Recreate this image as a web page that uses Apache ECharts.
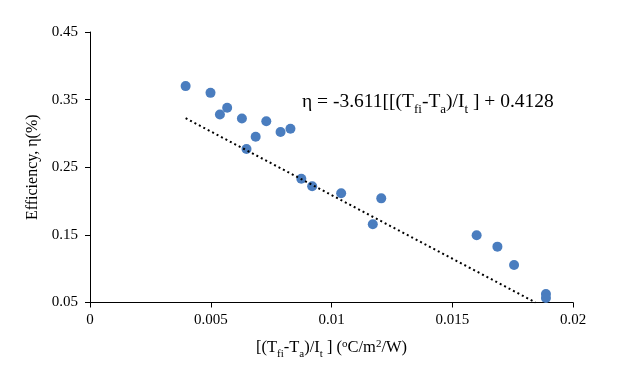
<!DOCTYPE html>
<html>
<head>
<meta charset="utf-8">
<script src="https://cdn.jsdelivr.net/npm/echarts@6/dist/echarts.min.js"></script>
<style>html,body{margin:0;padding:0;background:#fff}#c{width:623px;height:376px}</style>
</head>
<body>
<div id="c"></div>
<script>
var xValues = [0.00396, 0.00499, 0.00538, 0.00568, 0.00629, 0.00648, 0.00686, 0.00730, 0.00789, 0.00830, 0.00875, 0.00920, 0.01040, 0.01206, 0.01171, 0.01601, 0.01687, 0.01756, 0.01888, 0.01888];
var yValues = [0.370, 0.360, 0.328, 0.338, 0.322, 0.277, 0.295, 0.318, 0.302, 0.307, 0.233, 0.222, 0.2115, 0.204, 0.1657, 0.1494, 0.1326, 0.1055, 0.0626, 0.0567];
var trendX = [0.00396, 0.01845];
var trendY = [0.3225, 0.05];
var xTicks = [0, 0.005, 0.01, 0.015, 0.02];
var yTicks = [0.05, 0.15, 0.25, 0.35, 0.45];

var pts = xValues.map(function (x, i) { return [x, yValues[i]]; });
var trend = trendX.map(function (x, i) { return [x, trendY[i]]; });
var font = '"Liberation Serif", "Times New Roman", serif';

var chart = echarts.init(document.getElementById('c'), null, { renderer: 'canvas' });
chart.setOption({
  animation: false,
  backgroundColor: '#fff',
  textStyle: { fontFamily: font },
  grid: { left: 90, right: 50, top: 32, bottom: 73.5 },
  xAxis: {
    type: 'value', min: 0, max: 0.02, interval: 0.005,
    axisLine: { show: true, lineStyle: { color: '#000', width: 1 } },
    axisTick: { show: true, length: 5, lineStyle: { color: '#000' } },
    splitLine: { show: false },
    axisLabel: { color: '#000', fontSize: 15, fontFamily: font, margin: 10,
      formatter: function (v) { return String(+v.toFixed(3)); } },
    name: '{n|[(T}{s|fi}{n|-T}{s|a}{n|)/I}{s|t}{n| ] (}{p|o}{n|C/m}{p|2}{n|/W)}',
    nameLocation: 'middle', nameGap: 34,
    nameTextStyle: {
      color: '#000', fontFamily: font,
      rich: {
        n: { fontSize: 16.5, fontFamily: font, color: '#000', lineHeight: 22, verticalAlign: 'middle' },
        s: { fontSize: 11, fontFamily: font, color: '#000', lineHeight: 22, verticalAlign: 'bottom', padding: [0, 0, -1, 0] },
        p: { fontSize: 11, fontFamily: font, color: '#000', lineHeight: 22, verticalAlign: 'top', padding: [2, 0, 0, 0] }
      }
    }
  },
  yAxis: {
    type: 'value', min: 0.05, max: 0.45, interval: 0.1,
    axisLine: { show: true, lineStyle: { color: '#000', width: 1 } },
    axisTick: { show: true, length: 5, lineStyle: { color: '#000' } },
    splitLine: { show: false },
    axisLabel: { color: '#000', fontSize: 15, fontFamily: font, margin: 12,
      formatter: function (v) { return v.toFixed(2); } },
    name: 'Efficiency, η(%)',
    nameLocation: 'middle', nameGap: 45,
    nameTextStyle: { color: '#000', fontSize: 16, fontFamily: font }
  },
  series: [
    {
      type: 'line', data: trend, symbol: 'none', silent: true,
      lineStyle: { color: '#000', width: 2, type: [2, 3] }, z: 3
    },
    {
      type: 'scatter', data: pts, symbol: 'circle', symbolSize: 10,
      itemStyle: { color: '#4a7dbf', opacity: 1 }, z: 2
    }
  ],
  graphic: [{
    type: 'text', left: 302, top: 92,
    style: {
      text: '{n|η = -3.611[[(T}{s|fi}{n|-T}{s|a}{n|)/I}{s|t}{n| ] + 0.4128}',
      rich: {
        n: { fontSize: 19.5, fontFamily: font, fill: '#000', lineHeight: 25, verticalAlign: 'middle' },
        s: { fontSize: 13, fontFamily: font, fill: '#000', lineHeight: 25, verticalAlign: 'bottom', padding: [0, 0, -2, 0] }
      }
    }
  }]
});
</script>
</body>
</html>
